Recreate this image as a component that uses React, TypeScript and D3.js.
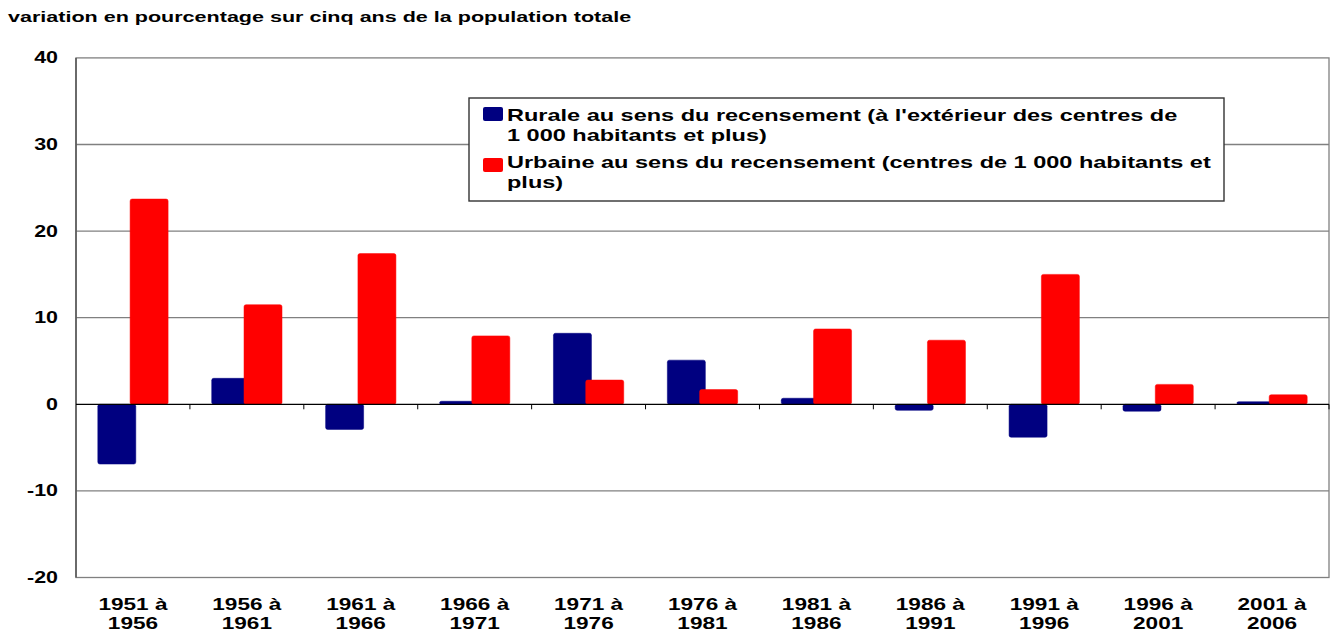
import React from 'react';
import * as d3 from 'd3';

const periods = [
  ['1951 à', '1956'],
  ['1956 à', '1961'],
  ['1961 à', '1966'],
  ['1966 à', '1971'],
  ['1971 à', '1976'],
  ['1976 à', '1981'],
  ['1981 à', '1986'],
  ['1986 à', '1991'],
  ['1991 à', '1996'],
  ['1996 à', '2001'],
  ['2001 à', '2006'],
];
const rurale = [-6.9, 3.0, -2.9, 0.35, 8.2, 5.1, 0.7, -0.7, -3.8, -0.8, 0.3];
const urbaine = [23.7, 11.5, 17.4, 7.9, 2.8, 1.7, 8.7, 7.4, 15.0, 2.3, 1.1];
const yTicks = [-20, -10, 0, 10, 20, 30, 40];
const legendRurale = ["Rurale au sens du recensement (à l'extérieur des centres de", '1 000 habitants et plus)'];
const legendUrbaine = ['Urbaine au sens du recensement (centres de 1 000 habitants et', 'plus)'];
const title = 'variation en pourcentage sur cinq ans de la population totale';

const W = 1331;
const H = 630;
const left = 76;
const right = 1329;
const top = 57.9;
const bottom = 577.5;
const font = 'Liberation Sans, Arial, sans-serif';
const sx = 1.37; // the original picture is stretched sideways

// text stretched horizontally like the reference
const T = ({ x, y, size, anchor = 'start', k = sx, children }: any) => (
  <text transform={`translate(${x},${y}) scale(${k},1)`} fontSize={size} textAnchor={anchor}>
    {children}
  </text>
);

export default function App() {
  const x = d3
    .scaleBand<number>()
    .domain(d3.range(periods.length))
    .range([left, right]);
  const y = d3.scaleLinear().domain([-20, 40]).range([bottom, top]);
  const bw = 38;
  const step = 32.3;

  const bar = (v: number, i: number, k: number, color: string) => {
    const x0 = (x(i) as number) + x.bandwidth() / 2 - (bw + step) / 2 + k * step;
    const y0 = y(Math.max(0, v));
    const h = Math.abs(y(v) - y(0));
    return (
      <rect
        key={`${k}-${i}`}
        x={x0}
        y={y0}
        width={bw}
        height={Math.max(h, 1.5)}
        rx={2}
        fill={color}
        stroke={color}
        strokeOpacity={0.5}
        strokeWidth={1}
      />
    );
  };

  return (
    <svg width={W} height={H} style={{ position: 'absolute', left: 0, top: 0 }} fontFamily={font} fontWeight="bold">
      <rect width={W} height={H} fill="#fff" />
      <T x={8} y={22} size={15.5} k={1.39}>
        {title}
      </T>
      {yTicks.map((t) => (
        <g key={t}>
          {t !== 0 && t !== 40 && t !== -20 && (
            <line x1={left} x2={right} y1={y(t)} y2={y(t)} stroke="#808080" strokeWidth={1.3} />
          )}
          <T x={58} y={y(t) + 5.5} size={16.5} anchor="end" k={1.3}>
            {t}
          </T>
        </g>
      ))}
      <rect x={left} y={top} width={right - left} height={bottom - top} fill="none" stroke="#808080" strokeWidth={1.3} />
      <line x1={left} x2={left} y1={top} y2={bottom} stroke="#555" strokeWidth={1.5} />
      {rurale.map((v, i) => bar(v, i, 0, '#000080'))}
      {urbaine.map((v, i) => bar(v, i, 1, '#ff0000'))}
      <line x1={left} x2={right} y1={y(0)} y2={y(0)} stroke="#000" strokeWidth={1.3} />
      {periods.map((p, i) => (
        <g key={i}>
          <line
            x1={(x(i) as number) + x.bandwidth()}
            x2={(x(i) as number) + x.bandwidth()}
            y1={y(0)}
            y2={y(0) + 5}
            stroke="#000"
            strokeWidth={1}
          />
          {p.map((s, j) => (
            <T key={j} x={(x(i) as number) + x.bandwidth() / 2} y={610 + j * 18.5} size={17} anchor="middle" k={1.33}>
              {s}
            </T>
          ))}
        </g>
      ))}
      <rect x={469} y={98} width={755} height={103} fill="#fff" stroke="#333" strokeWidth={1.4} />
      <rect x={483} y={107} width={20} height={14} rx={2} fill="#000080" />
      <rect x={483} y={158} width={20} height={14} rx={2} fill="#ff0000" />
      {legendRurale.map((s, j) => (
        <T key={j} x={507} y={121 + j * 19.5} size={17} k={1.383}>
          {s}
        </T>
      ))}
      {legendUrbaine.map((s, j) => (
        <T key={j} x={507} y={168 + j * 19.5} size={17} k={1.383}>
          {s}
        </T>
      ))}
    </svg>
  );
}
